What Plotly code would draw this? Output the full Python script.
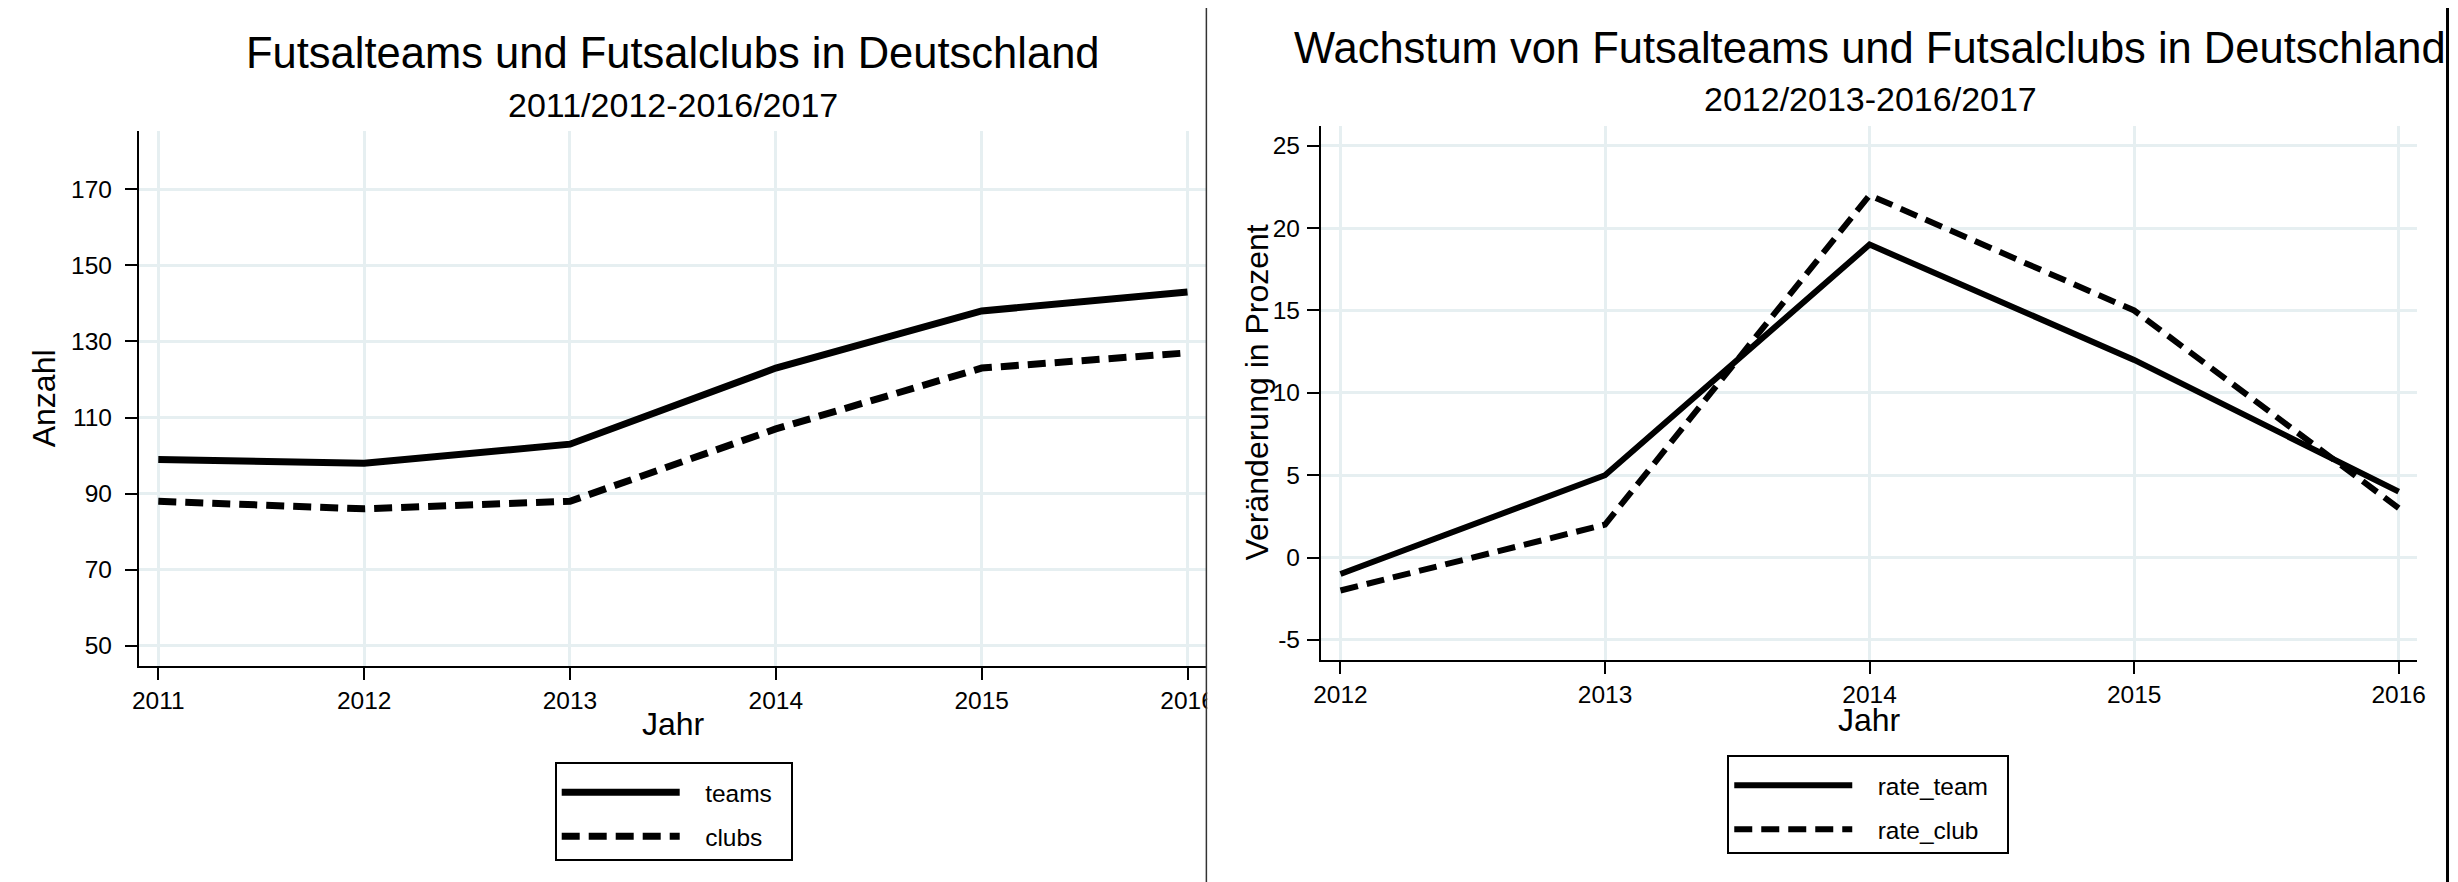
import plotly.graph_objects as go

# ---------------- data ----------------
years_left = [2011, 2012, 2013, 2014, 2015, 2016]
teams = [99, 98, 103, 123, 138, 143]
clubs = [88, 86, 88, 107, 123, 127]

years_right = [2012, 2013, 2014, 2015, 2016]
rate_team = [-1, 5, 19, 12, 4]
rate_club = [-2, 2, 22, 15, 3]

left_yticks = [50, 70, 90, 110, 130, 150, 170]
left_yticktext = ["50", "70", "90", "110", "130", "150", "170"]
right_yticks = [-5, 0, 5, 10, 15, 20, 25]
right_yticktext = ["-5", "0", "5", "10", "15", "20", "25"]

title_left = "Futsalteams und Futsalclubs in Deutschland"
subtitle_left = "2011/2012-2016/2017"
title_right = "Wachstum von Futsalteams und Futsalclubs in Deutschland"
subtitle_right = "2012/2013-2016/2017"

# ---------------- layout helpers ----------------
# the page body has an 8px margin, so the figure starts at (8, 8) of the window
OX, OY = 8, 8
W, H = 2450, 874
FONT = "Liberation Sans, Arial, Helvetica, sans-serif"
GRID = "#E6EFF1"
NB = "\u00a0"


def px(x):
    return (x - OX) / W


def py(y):
    return 1 - (y - OY) / H


fig = go.Figure()

fig.add_trace(go.Scatter(x=years_left, y=teams, name=NB * 3 + "teams" + NB * 2, mode="lines",
                         line=dict(color="black", width=7),
                         xaxis="x", yaxis="y", legend="legend", legendgroup="a"))
fig.add_trace(go.Scatter(x=years_left, y=clubs, name=NB * 3 + "clubs" + NB * 2, mode="lines",
                         line=dict(color="black", width=7, dash="18px,9px"),
                         xaxis="x", yaxis="y", legend="legend", legendgroup="b"))
fig.add_trace(go.Scatter(x=years_right, y=rate_team, name=NB * 3 + "rate_team" + NB * 2, mode="lines",
                         line=dict(color="black", width=6),
                         xaxis="x2", yaxis="y2", legend="legend2", legendgroup="c"))
fig.add_trace(go.Scatter(x=years_right, y=rate_club, name=NB * 3 + "rate_club" + NB * 2, mode="lines",
                         line=dict(color="black", width=6, dash="18px,9px"),
                         xaxis="x2", yaxis="y2", legend="legend2", legendgroup="d"))

axis_common = dict(
    showline=True, linecolor="black", linewidth=2,
    ticks="outside", ticklen=12, tickwidth=2, tickcolor="black",
    showgrid=True, gridcolor=GRID, gridwidth=2.5,
    zeroline=False,
    tickfont=dict(family=FONT, size=24.5, color="black"),
    fixedrange=True,
)

legend_common = dict(
    xanchor="center", yanchor="top",
    bordercolor="black", borderwidth=2, bgcolor="white",
    font=dict(family=FONT, size=24.5, color="black"),
    itemwidth=118, traceorder="grouped", tracegroupgap=9,
    title=dict(text=NB, font=dict(family=FONT, size=4.3)),
)

fig.update_layout(
    width=W, height=H,
    margin=dict(l=0, r=0, t=0, b=0),
    paper_bgcolor="white", plot_bgcolor="white",
    font=dict(family=FONT, color="black"),
    xaxis=dict(domain=[px(131.7), px(1206.7)], anchor="y",
               range=[2010.9055, 2016.0917], tickvals=years_left,
               ticktext=[str(v) for v in years_left], **axis_common),
    yaxis=dict(domain=[py(666), py(131)], anchor="x",
               range=[44.7, 185.3], tickvals=left_yticks,
               ticktext=left_yticktext, ticklabelstandoff=8, **axis_common),
    xaxis2=dict(domain=[px(1322), px(2426)], anchor="y2",
                range=[2011.926, 2016.070], tickvals=years_right,
                ticktext=[str(v) for v in years_right], **axis_common),
    yaxis2=dict(domain=[py(660), py(126)], anchor="x2",
                range=[-6.22, 26.2], tickvals=right_yticks,
                ticktext=right_yticktext, ticklabelstandoff=2, **axis_common),
    legend=dict(x=px(670.3), y=py(762.3), **legend_common),
    legend2=dict(x=px(1873.2), y=py(755.3), **legend_common),
    showlegend=True,
)

ann = []


def add_text(text, x, y, size, angle=0):
    ann.append(dict(text=text, x=px(x), y=py(y), xref="paper", yref="paper",
                    xanchor="center", yanchor="middle", showarrow=False,
                    textangle=angle,
                    font=dict(family=FONT, size=size, color="black")))


add_text(title_left, 670, 53, 43.5)
add_text(subtitle_left, 669.5, 104.5, 34)
add_text(title_right, 1874.5, 48, 43.5)
add_text(subtitle_right, 1875, 98.7, 34)
add_text("Jahr", 670, 724, 32)
add_text("Jahr", 1874, 720, 32)
add_text("Anzahl", 36, 398.5, 32, -90)
add_text("Veränderung in Prozent", 1257.5, 392.7, 32, -90)
fig.update_layout(annotations=ann)

fig.update_layout(shapes=[
    # clip the left panel's last tick label at the divider
    dict(type="rect", xref="paper", yref="paper",
         x0=px(1207.5), x1=px(1262), y0=py(716), y1=py(668),
         fillcolor="white", line=dict(width=0), layer="above"),
    # divider between the two graphs
    dict(type="line", xref="paper", yref="paper",
         x0=px(1206.7), x1=px(1206.7), y0=0, y1=1,
         line=dict(color="#333333", width=1.5), layer="above"),
    # right border
    dict(type="line", xref="paper", yref="paper",
         x0=px(2456.5), x1=px(2456.5), y0=0, y1=1,
         line=dict(color="black", width=3), layer="above"),
])

fig.write_html("out.html")
